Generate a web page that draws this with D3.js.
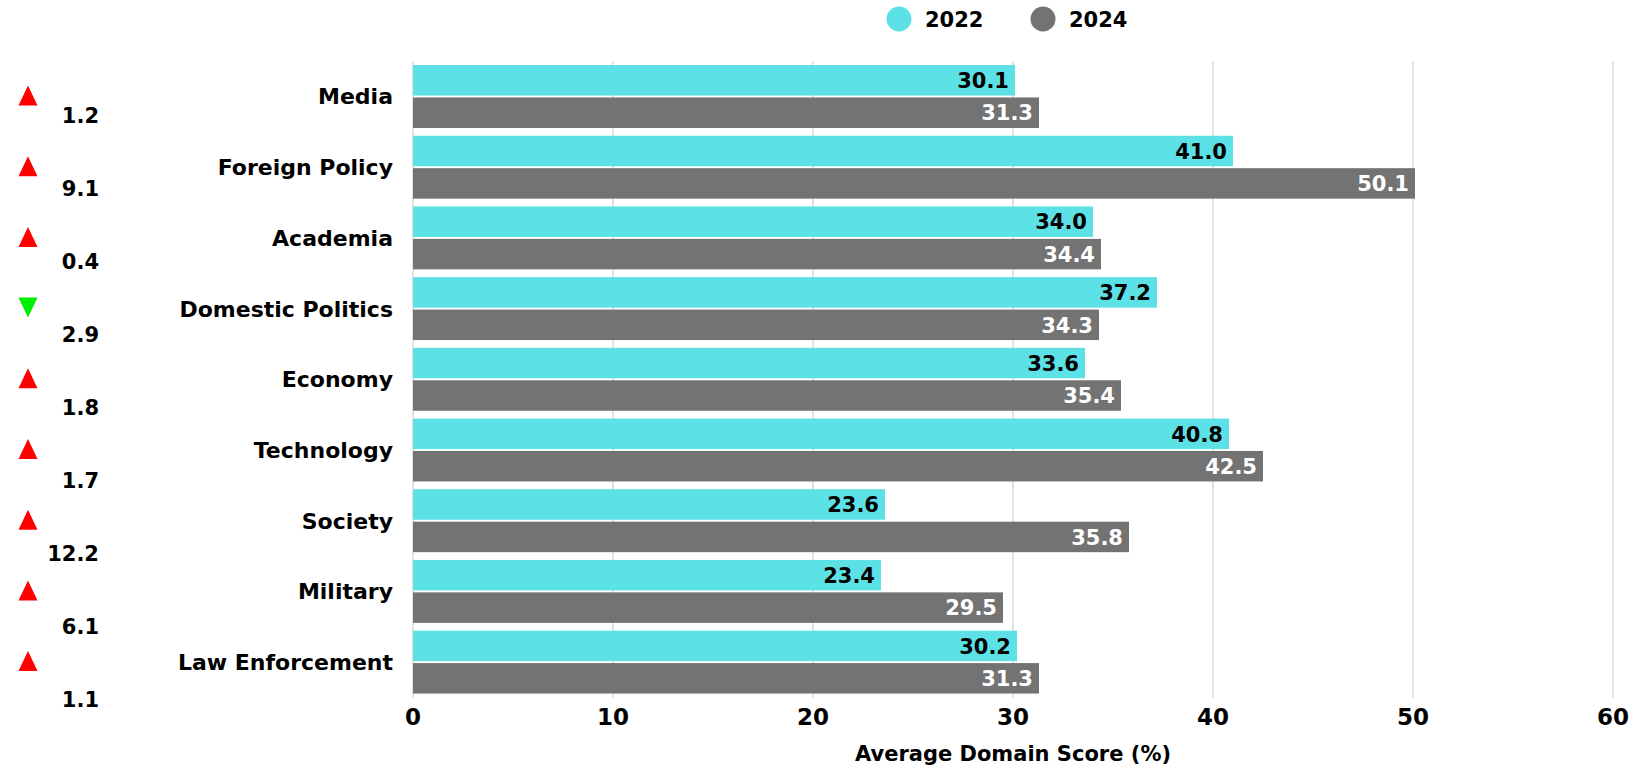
<!DOCTYPE html>
<html>
<head>
<meta charset="utf-8">
<script src="https://cdn.jsdelivr.net/npm/d3@7"></script>
<style>
  html, body { margin: 0; padding: 0; background: #fff; overflow: hidden; }
  svg { display: block; }
  text { font-family: "DejaVu Sans", sans-serif; font-weight: 700; }
</style>
</head>
<body>
<div id="vis"></div>
<script>
const FRAME_WIDTH = 1638;
const FRAME_HEIGHT = 771;

// data
const CATEGORIES = ["Media", "Foreign Policy", "Academia", "Domestic Politics", "Economy",
                    "Technology", "Society", "Military", "Law Enforcement"];
const SERIES = ["2022", "2024"];
const VALUES_2022 = [30.1, 41.0, 34.0, 37.2, 33.6, 40.8, 23.6, 23.4, 30.2];
const VALUES_2024 = [31.3, 50.1, 34.4, 34.3, 35.4, 42.5, 35.8, 29.5, 31.3];
const CHANGE = ["1.2", "9.1", "0.4", "2.9", "1.8", "1.7", "12.2", "6.1", "1.1"];
const CHANGE_DIR = ["up", "up", "up", "down", "up", "up", "up", "up", "up"];
const X_TICKS = [0, 10, 20, 30, 40, 50, 60];

const COLORS = { "2022": "#5ce1e6", "2024": "#737373" };
const LABEL_COLORS = { "2022": "#000", "2024": "#fff" };

const rows = CATEGORIES.map((c, i) => ({
  cat: c,
  vals: [{ s: "2022", v: VALUES_2022[i] }, { s: "2024", v: VALUES_2024[i] }],
  change: CHANGE[i],
  dir: CHANGE_DIR[i]
}));

const svg = d3.select("#vis")
  .append("svg")
    .attr("width", FRAME_WIDTH)
    .attr("height", FRAME_HEIGHT);

const X_SCALE = d3.scaleLinear()
  .domain([0, 60])
  .range([413, 1613]);

const Y_SCALE = d3.scaleBand()
  .domain(CATEGORIES)
  .range([61.15, 697.45])
  .paddingInner(0.11)
  .paddingOuter(0.055);

const Y_SUB = d3.scaleBand()
  .domain(SERIES)
  .range([0, Y_SCALE.bandwidth()])
  .paddingInner(0.06);

// change labels sit on their own slightly wider spacing
const CHANGE_SCALE = d3.scaleBand()
  .domain(CATEGORIES)
  .range([78.5, 735.5]);

// gridlines
svg.append("g")
  .selectAll("line")
  .data(X_TICKS)
  .enter()
  .append("line")
    .attr("x1", d => X_SCALE(d))
    .attr("x2", d => X_SCALE(d))
    .attr("y1", Y_SCALE.range()[0])
    .attr("y2", Y_SCALE.range()[1])
    .attr("stroke", "#d9d9d9")
    .attr("stroke-width", 1.5);

// x tick labels
svg.append("g")
  .selectAll("text")
  .data(X_TICKS)
  .enter()
  .append("text")
    .attr("x", d => X_SCALE(d))
    .attr("y", 717)
    .attr("dy", "0.36em")
    .attr("text-anchor", "middle")
    .attr("font-size", 23)
    .attr("fill", "#000")
    .text(d => d);

svg.append("text")
  .attr("x", (X_SCALE(0) + X_SCALE(60)) / 2)
  .attr("y", 753)
  .attr("dy", "0.36em")
  .attr("text-anchor", "middle")
  .attr("font-size", 21)
  .attr("fill", "#000")
  .text("Average Domain Score (%)");

// bars
const groups = svg.append("g")
  .selectAll("g")
  .data(rows)
  .enter()
  .append("g")
    .attr("transform", d => `translate(0,${Y_SCALE(d.cat)})`);

groups.selectAll("rect")
  .data(d => d.vals)
  .enter()
  .append("rect")
    .attr("x", X_SCALE(0))
    .attr("y", d => Y_SUB(d.s))
    .attr("width", d => X_SCALE(d.v) - X_SCALE(0))
    .attr("height", Y_SUB.bandwidth())
    .attr("fill", d => COLORS[d.s]);

groups.selectAll("text.val")
  .data(d => d.vals)
  .enter()
  .append("text")
    .attr("class", "val")
    .attr("x", d => X_SCALE(d.v) - 6)
    .attr("y", d => Y_SUB(d.s) + Y_SUB.bandwidth() / 2)
    .attr("dy", "0.37em")
    .attr("text-anchor", "end")
    .attr("font-size", 21)
    .attr("fill", d => LABEL_COLORS[d.s])
    .text(d => d.v.toFixed(1));

// category labels
svg.append("g")
  .selectAll("text")
  .data(rows)
  .enter()
  .append("text")
    .attr("x", 393)
    .attr("y", d => Y_SCALE(d.cat) + Y_SCALE.bandwidth() / 2)
    .attr("dy", "0.36em")
    .attr("text-anchor", "end")
    .attr("font-size", 22)
    .attr("fill", "#000")
    .text(d => d.cat);

// change arrows
const tri = (dir) => dir === "up"
  ? "M0,-10L9.5,10L-9.5,10Z"
  : "M0,10L9.5,-10L-9.5,-10Z";

svg.append("g")
  .selectAll("path")
  .data(rows)
  .enter()
  .append("path")
    .attr("transform", d => `translate(28,${Y_SCALE(d.cat) + Y_SCALE.bandwidth() / 2 - 1})`)
    .attr("d", d => tri(d.dir))
    .attr("fill", d => d.dir === "up" ? "#ff0000" : "#00ee00");

svg.append("g")
  .selectAll("text")
  .data(rows)
  .enter()
  .append("text")
    .attr("x", 99)
    .attr("y", d => CHANGE_SCALE(d.cat) + CHANGE_SCALE.bandwidth() / 2)
    .attr("dy", "0.36em")
    .attr("text-anchor", "end")
    .attr("font-size", 21)
    .attr("fill", "#000")
    .text(d => d.change);

// legend
const legend = svg.append("g")
  .selectAll("g")
  .data(SERIES)
  .enter()
  .append("g")
    .attr("transform", (d, i) => `translate(${899 + i * 144},19)`);

legend.append("circle")
  .attr("r", 12.5)
  .attr("fill", d => COLORS[d]);

legend.append("text")
  .attr("x", 26)
  .attr("dy", "0.36em")
  .attr("font-size", 21)
  .attr("fill", "#000")
  .text(d => d);
</script>
</body>
</html>
